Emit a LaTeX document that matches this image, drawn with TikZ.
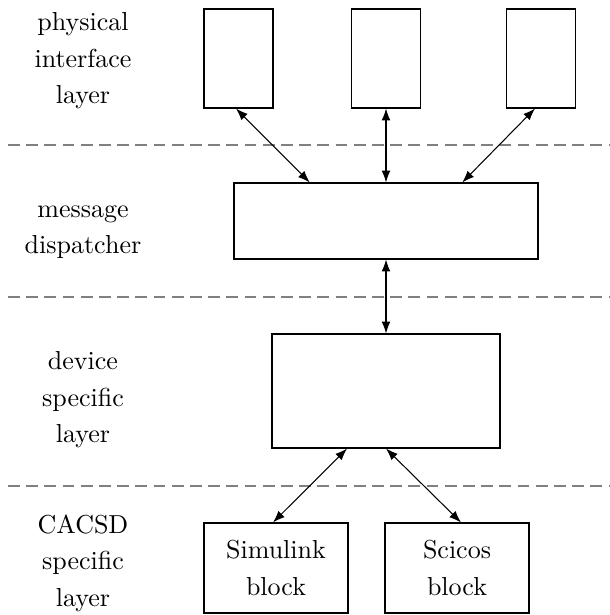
\documentclass[tikz,border=0pt]{standalone}
\usepackage{amsmath}
\usepackage{tikz}
\usetikzlibrary{calc,arrows.meta}
\newcommand{\pxu}{0.3846pt}
\tikzset{
  blk/.style={draw, inner sep=0pt, align=center, font=\fontsize{10}{14}\selectfont},
  lbl/.style={align=center, font=\fontsize{10}{14}\selectfont},
  sepline/.style={draw=gray, dash pattern=on 4.5pt off 2.5pt},
  link/.style={{Latex[length=4.6pt,width=3.4pt]}-{Latex[length=4.6pt,width=3.4pt]}}
}

\begin{document}
\begin{tikzpicture}[x=\pxu, y=-\pxu]
\useasboundingbox (0,0) rectangle (609,615);
% layer names
\node[lbl] (lphys) at (83,61) {physical\\interface\\layer};
\node[lbl] (lmsg) at (83,232) {message\\dispatcher};
\node[lbl] (ldev) at (83,400) {device\\specific\\layer};
\node[lbl] (lcacsd) at (83,563) {CACSD\\specific\\layer};
% layer borders
\draw[sepline] (8,145) -- (609,145);
\draw[sepline] (8,297) -- (609,297);
\draw[sepline] (8,486) -- (609,486);
% blocks
\node[blk, minimum width = 69*\pxu, minimum height = 99*\pxu] (phys1) at (238.5,58.5) {};
\node[blk, minimum width = 69*\pxu, minimum height = 99*\pxu] (phys2) at (386,58.5) {};
\node[blk, minimum width = 69*\pxu, minimum height = 99*\pxu] (phys3) at (541,58.5) {};
\node[blk, minimum width = 304*\pxu, minimum height = 76*\pxu] (disp) at (386,221) {};
\node[blk, minimum width = 228*\pxu, minimum height = 114*\pxu] (dev) at (386,391) {};
\node[blk, minimum width = 144*\pxu, minimum height = 90*\pxu] (simu) at (276,568) {Simulink\\block};
\node[blk, minimum width = 144*\pxu, minimum height = 90*\pxu] (scic) at (457,568) {Scicos\\block};
% connections
\draw[link] ($(phys1.south)+(-2.5,0)$) -- ($(disp.north)!0.5!(disp.north west)$);
\draw[link] (phys2.south) -- (disp.north);
\draw[link] ($(phys3.south)+(-6,0)$) -- ($(disp.north)!0.5!(disp.north east)$);
\draw[link] (disp.south) -- (dev.north);
\draw[link] ($(dev.south west)!0.33!(dev.south east)$) -- ($(simu.north)+(-3,0)$);
\draw[link] (dev.south) -- ($(scic.north)+(4,0)$);
\end{tikzpicture}
\end{document}
